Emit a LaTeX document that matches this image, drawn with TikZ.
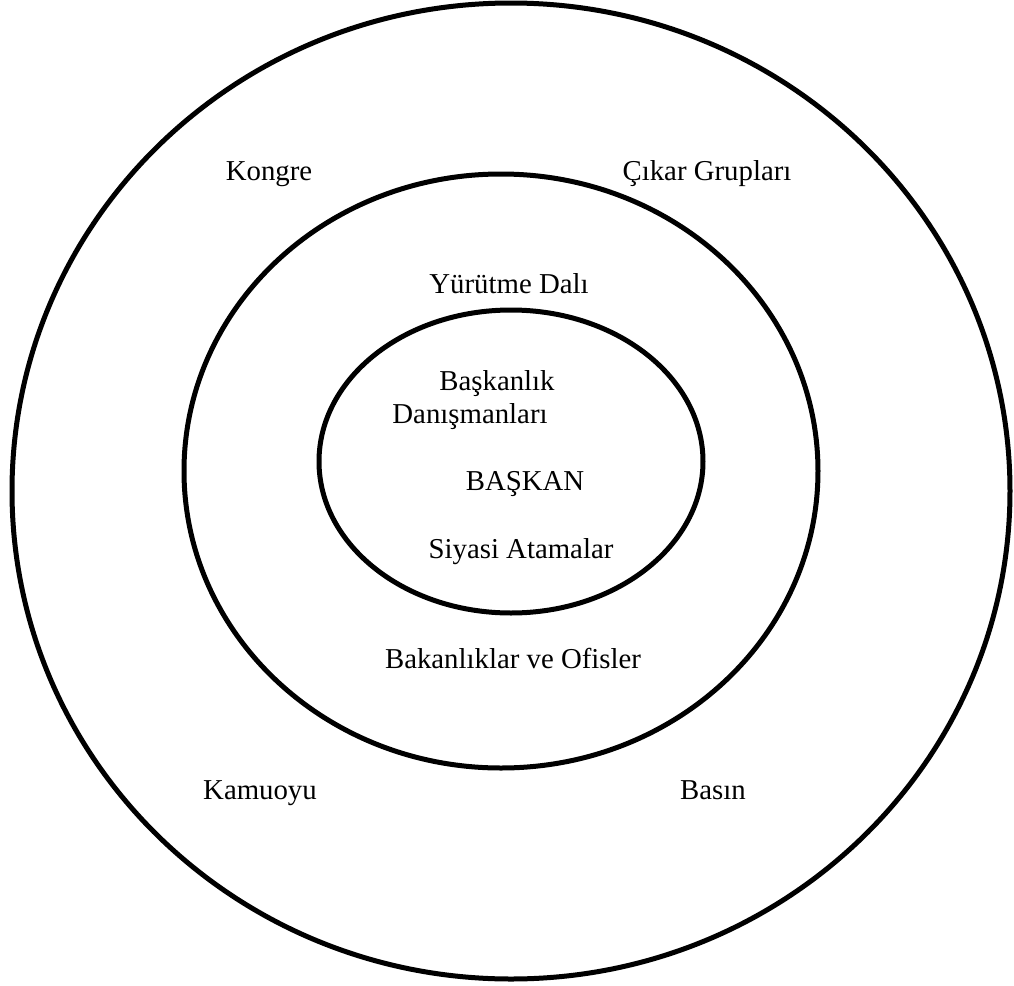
\documentclass[tikz,border=0pt]{standalone}
\usepackage{fontspec}
\setmainfont{Liberation Serif}
\usetikzlibrary{positioning}

\begin{document}
\begin{tikzpicture}[x=0.5pt,y=-0.5pt,
    ring/.style={draw=black,line width=2.5pt},
    lbl/.style={anchor=base,inner sep=0pt,font=\fontsize{14.4}{17}\selectfont}]
    \useasboundingbox (0,0) rectangle (1014,986);
    % Define rings
    \draw[ring] (511,491) ellipse [x radius=499,y radius=488];
    \draw[ring] (501,471) ellipse [x radius=317,y radius=297];
    \draw[ring] (511,461.5) ellipse [x radius=192,y radius=151.5];

    % Outer ring
    \node[lbl] (kongre) at (269,180) {Kongre};
    \node[lbl] (cikar) at (707,180) {Çıkar Grupları};
    \node[lbl] (kamuoyu) at (260,799) {Kamuoyu};
    \node[lbl] (basin) at (713,799) {Basın};

    % Middle ring
    \node[lbl] (yurutme) at (509,293) {Yürütme Dalı};
    \node[lbl] (bakanlik) at (513,668) {Bakanlıklar ve Ofisler};

    % Inner ring
    \node[lbl] (baskanlik) at (497,390) {Başkanlık};
    \node[lbl] (danisman) at (470,423) {Danışmanları};
    \node[lbl] (baskan) at (525,490) {BAŞKAN};
    \node[lbl] (siyasi) at (521,558) {Siyasi Atamalar};
\end{tikzpicture}
\end{document}
